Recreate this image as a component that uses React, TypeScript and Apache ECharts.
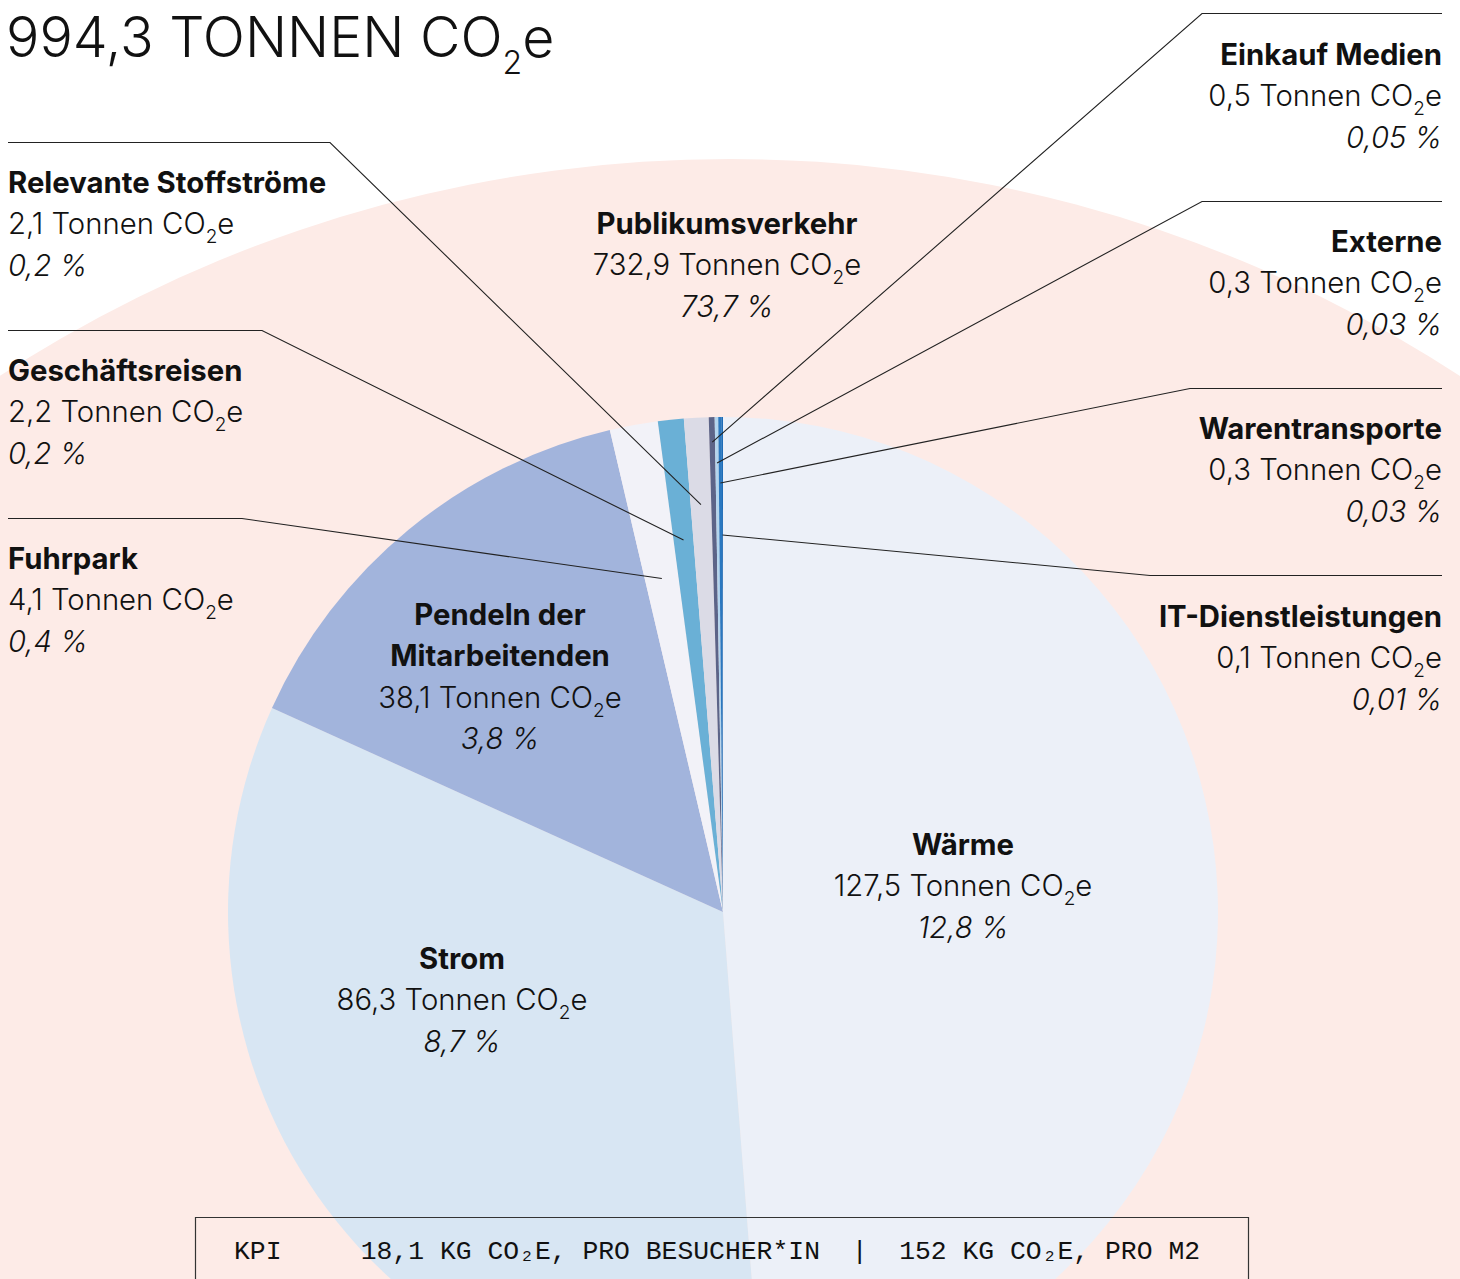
import React, { useEffect, useRef } from "react";
import * as echarts from "echarts";

// ---------- data ----------
const totalLabel = "994,3";
const mainName = "Publikumsverkehr";
const mainValue = 732.9;
const mainPercent = "73,7";

const categories = [
  "Wärme",
  "Strom",
  "Pendeln der Mitarbeitenden",
  "Fuhrpark",
  "Geschäftsreisen",
  "Relevante Stoffströme",
  "Einkauf Medien",
  "Externe",
  "Warentransporte",
  "IT-Dienstleistungen",
];
const values = [127.5, 86.3, 38.1, 4.1, 2.2, 2.1, 0.5, 0.3, 0.3, 0.1];
const percentLabels = ["12,8", "8,7", "3,8", "0,4", "0,2", "0,2", "0,05", "0,03", "0,03", "0,01"];
const kpiLabels = ["18,1 KG CO₂E, PRO BESUCHER*IN", "152 KG CO₂E, PRO M2"];

// ---------- styles ----------
const sliceColors = [
  "#ecf0f8",
  "#d8e6f3",
  "#a2b4dc",
  "#f2f2f8",
  "#6ab0d6",
  "#dbdbe6",
  "#5c6488",
  "#b3d5ee",
  "#2a78c0",
  "#1f6cb6",
];
const pinkColor = "#fdebe7";
const FONT = "Inter, 'Liberation Sans', Arial, sans-serif";
const TEXT = "#111111";
const FS = 29.3;

const CX = 723;
const CY = 912;
const R = 495;

const fmt = (v: number) => v.toFixed(1).replace(".", ",");

const innerLabels: { idx: number; x: number; y: number; lines: string[] }[] = [
  { idx: 0, x: 963, y: 844, lines: ["Wärme"] },
  { idx: 1, x: 462, y: 958, lines: ["Strom"] },
  { idx: 2, x: 500, y: 614, lines: ["Pendeln der", "Mitarbeitenden"] },
];
const outerLabels = [
  { idx: 5, side: "left", y: 182, lineY: 142.5, elbow: 330, r: 408 },
  { idx: 4, side: "left", y: 370, lineY: 330.5, elbow: 262, r: 374 },
  { idx: 3, side: "left", y: 558, lineY: 518.5, elbow: 242, r: 339 },
  { idx: 6, side: "right", y: 54, lineY: 13.5, elbow: 1202, r: 470 },
  { idx: 7, side: "right", y: 241, lineY: 201.5, elbow: 1202, r: 449 },
  { idx: 8, side: "right", y: 428, lineY: 388.5, elbow: 1190, r: 429 },
  { idx: 9, side: "right", y: 616, lineY: 575.5, elbow: 1150, r: 377 },
];

const LH = 41.5;

function midPoint(idx: number, r: number): [number, number] {
  const sum = values.reduce((a, b) => a + b, 0);
  let cum = 0;
  for (let i = 0; i < idx; i++) cum += values[i];
  const mid = (cum + values[idx] / 2) / sum;
  const th = mid * Math.PI * 2;
  return [CX + r * Math.sin(th), CY - r * Math.cos(th)];
}

function textEl(text: string, x: number, y: number, opts: any = {}) {
  return {
    type: "text",
    z: 100,
    silent: true,
    style: {
      text,
      x,
      y,
      fill: TEXT,
      fontFamily: FONT,
      fontSize: opts.fontSize || FS,
      fontWeight: opts.fontWeight || 400,
      fontStyle: opts.fontStyle || "normal",
      textAlign: opts.align || "left",
      textVerticalAlign: "middle",
    },
  };
}

// text with a subscript "2" in CO2e
function co2El(prefix: string, x: number, y: number, align: string, fs: number, subFs: number, lineH: number, weight: number) {
  const base = { fontFamily: FONT, fill: TEXT, fontWeight: weight };
  return {
    type: "text",
    z: 100,
    silent: true,
    style: {
      text: `{n|${prefix}CO}{s|2}{n|e}`,
      x,
      y,
      fill: TEXT,
      fontFamily: FONT,
      fontSize: fs,
      fontWeight: weight,
      textAlign: align,
      textVerticalAlign: "middle",
      rich: {
        n: { ...base, fontSize: fs, lineHeight: lineH },
        s: { ...base, fontSize: subFs, lineHeight: subFs, verticalAlign: "bottom" },
      },
    },
  };
}

function block(name: string[], value: number, pct: string, x: number, y: number, align: string) {
  const els: any[] = [];
  name.forEach((n, i) => els.push(textEl(n, x, y + i * LH, { fontWeight: 700, align })));
  const base = y + name.length * LH;
  els.push(co2El(`${fmt(value)} Tonnen `, x, base, align, FS, 19, 45, 300));
  els.push(textEl(`${pct} %`, x, base + LH, { fontWeight: 300, fontStyle: "italic", align }));
  return els;
}

export default function App() {
  const ref = useRef<HTMLDivElement>(null);
  useEffect(() => {
    if (!ref.current) return;
    const chart = echarts.init(ref.current, undefined, { renderer: "svg" });

    const graphics: any[] = [];
    // title
    graphics.push(co2El(`${totalLabel} TONNEN `, 6, 36, "left", 55.5, 32, 84, 300));
    // main
    graphics.push(...block([mainName], mainValue, mainPercent, 727, 223, "center"));
    innerLabels.forEach((l) => {
      graphics.push(...block(l.lines, values[l.idx], percentLabels[l.idx], l.x, l.y, "center"));
    });
    outerLabels.forEach((l) => {
      const x = l.side === "left" ? 8 : 1442;
      graphics.push(...block([categories[l.idx]], values[l.idx], percentLabels[l.idx], x, l.y, l.side === "left" ? "left" : "right"));
      const [ex, ey] = midPoint(l.idx, l.r);
      graphics.push({
        type: "polyline",
        z: 90,
        silent: true,
        shape: { points: [[x, l.lineY], [l.elbow, l.lineY], [ex, ey]] },
        style: { stroke: "#222", lineWidth: 1.1, fill: null },
      });
    });
    // KPI box
    graphics.push({
      type: "rect",
      z: 90,
      silent: true,
      shape: { x: 195.5, y: 1217.5, width: 1053, height: 100 },
      style: { stroke: "#333", lineWidth: 1.2, fill: null },
    });
    graphics.push({
      type: "text",
      z: 100,
      silent: true,
      style: {
        text: `KPI     ${kpiLabels[0]}  |  ${kpiLabels[1]}`,
        x: 234,
        y: 1252,
        fill: TEXT,
        fontFamily: "'Liberation Mono', 'DejaVu Sans Mono', monospace",
        fontSize: 26.4,
        textAlign: "left",
        textVerticalAlign: "middle",
      },
    });

    chart.setOption({
      animation: false,
      backgroundColor: "#ffffff",
      series: [
        {
          type: "pie",
          silent: true,
          center: [730, 1496],
          radius: 1337,
          startAngle: 90,
          label: { show: false },
          labelLine: { show: false },
          emphasis: { disabled: true },
          data: [{ name: mainName, value: mainValue, itemStyle: { color: pinkColor } }],
          z: 1,
        },
        {
          type: "pie",
          silent: true,
          center: [CX, CY],
          radius: R,
          startAngle: 90,
          clockwise: true,
          minAngle: 0,
          avoidLabelOverlap: false,
          label: { show: false },
          labelLine: { show: false },
          emphasis: { disabled: true },
          itemStyle: { borderWidth: 0 },
          data: categories.map((c, i) => ({ name: c, value: values[i], itemStyle: { color: sliceColors[i] } })),
          z: 2,
        },
      ],
      graphic: graphics,
    });
    return () => chart.dispose();
  }, []);
  return (
    <div
      ref={ref}
      style={{ position: "absolute", left: 0, top: 0, width: 1460, height: 1279 }}
    />
  );
}
